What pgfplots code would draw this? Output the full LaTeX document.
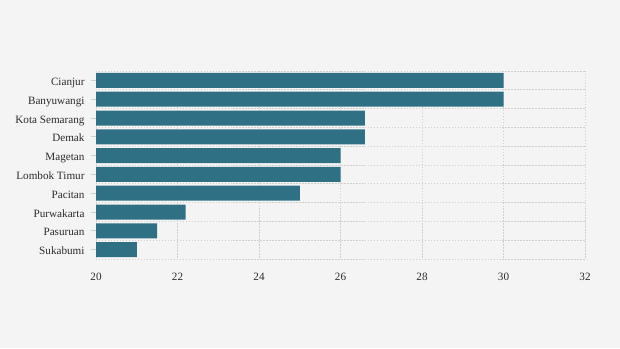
\documentclass[border=0pt]{standalone}
\usepackage{pgfplots}
\pgfplotsset{compat=1.18}
\usepackage{fontspec}
\setmainfont{Liberation Serif}
\definecolor{bg}{HTML}{F4F4F4}
\definecolor{bar}{HTML}{2F7084}
\definecolor{gridc}{HTML}{CFCFCF}
\definecolor{txt}{HTML}{2B2B2B}
\begin{document}
\begin{tikzpicture}[x=1bp,y=1bp]
\fill[bg] (0,0) rectangle (620,348);
\useasboundingbox (0,0) rectangle (620,348);
\begin{axis}[
  at={(96bp,89bp)}, anchor=south west,
  scale only axis, width=489bp, height=188bp,
  xbar, bar width=15bp,
  xmin=20, xmax=32, xtick={20,22,...,32},
  ymin=-0.5, ymax=9.5, y dir=reverse,
  ytick={0,...,9},
  yticklabels={Cianjur,Banyuwangi,Kota Semarang,Demak,Magetan,Lombok Timur,Pacitan,Purwakarta,Pasuruan,Sukabumi},
  minor ytick={-0.5,0.5,...,9.5},
  xmajorgrids, yminorgrids,
  major grid style={gridc, dash pattern=on 1.5pt off 1.5pt, line width=0.9pt},
  minor grid style={gridc, dash pattern=on 1.5pt off 1.5pt, line width=0.9pt},
  axis line style={draw=none},
  xtick style={draw=none},
  minor tick length=0pt,
  ytick style={gridc, line width=0.8pt},
  major tick length=5bp,
  tick align=outside,
  tick pos=left,
  /pgf/number format/assume math mode=true,
  ticklabel style={font=\fontsize{11.2}{13}\selectfont, text=txt},
  xticklabel style={yshift=-6bp},
  yticklabel style={anchor=base east, xshift=-3bp, yshift=-5bp},
]
\addplot[fill=bar, draw=none] coordinates {
(30,0) (30,1) (26.6,2) (26.6,3) (26,4) (26,5) (25,6) (22.2,7) (21.5,8) (21,9)};
\end{axis}
\end{tikzpicture}
\end{document}
